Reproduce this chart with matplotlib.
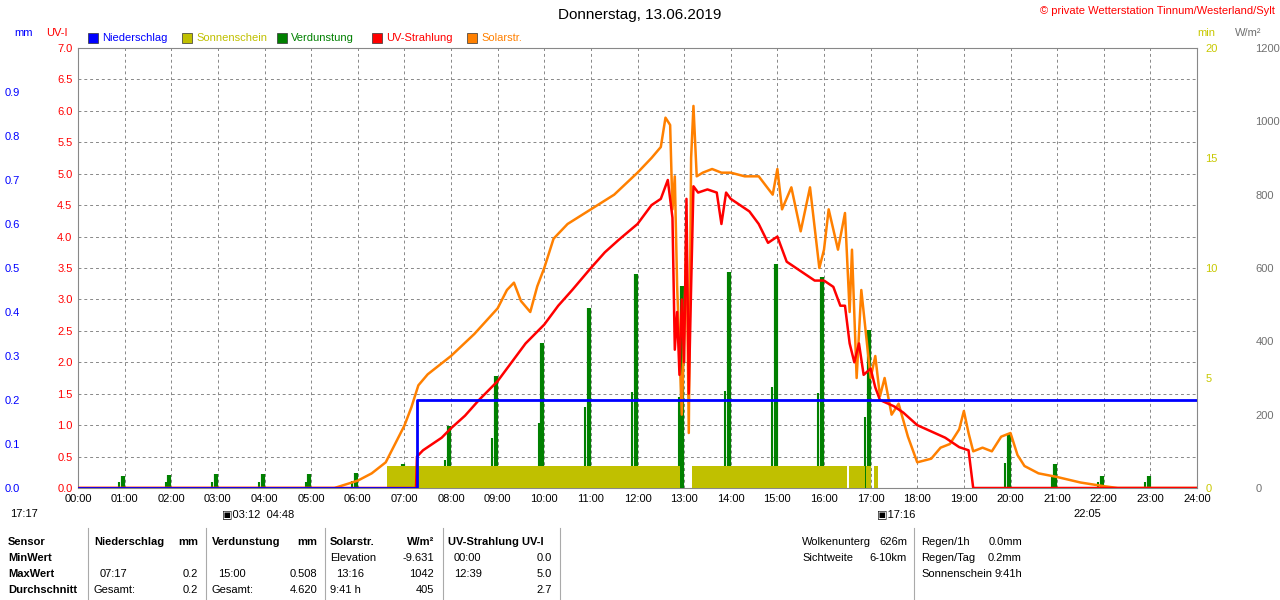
import matplotlib
matplotlib.use("Agg")
import matplotlib.pyplot as plt
import numpy as np

# ---------------- data ----------------
hours_labels = ["%02d:00" % h for h in range(25)]
rain_t = [0, 7.28, 7.28, 24]
rain_mm = [0, 0, 0.2, 0.2]

sun_blocks = [(6.62, 12.92), (13.17, 16.5), (16.53, 16.87), (16.9, 17.0), (17.08, 17.15)]
sun_min = 1.0

evap_t = [1, 2, 3, 4, 5, 6, 7, 8, 9, 10, 11, 12, 13, 14, 15, 16, 17, 18, 19, 20, 21, 22, 23]
evap_mm = [0.028, 0.03, 0.032, 0.032, 0.032, 0.035, 0.055, 0.14, 0.255, 0.33, 0.41, 0.487, 0.46, 0.49, 0.508,
           0.48, 0.36, 0.0, 0.0, 0.125, 0.055, 0.028, 0.028]

uv_t = [0, 7.25, 7.27, 7.4, 7.6, 7.8, 8.0, 8.3, 8.6, 9.0, 9.3, 9.6, 10.0, 10.3, 10.6, 11.0, 11.3, 11.6, 12.0,
        12.3, 12.5, 12.65, 12.75, 12.8, 12.85, 12.9, 12.95, 13.0, 13.05, 13.1, 13.15, 13.2, 13.3, 13.5, 13.7,
        13.8, 13.9, 14.0, 14.2, 14.4, 14.6, 14.8, 15.0, 15.2, 15.4, 15.6, 15.8, 16.0, 16.2, 16.35, 16.45, 16.55,
        16.65, 16.75, 16.85, 17.0, 17.1, 17.2, 17.35, 17.5, 17.7, 18.0, 18.3, 18.6, 18.9, 19.1, 19.15, 19.2, 24]
uv_i = [0, 0, 0.5, 0.6, 0.7, 0.8, 0.95, 1.15, 1.4, 1.7, 2.0, 2.3, 2.6, 2.9, 3.15, 3.5, 3.75, 3.95, 4.2,
        4.5, 4.6, 4.9, 4.3, 2.2, 2.8, 1.8, 3.0, 2.0, 4.6, 1.5, 3.2, 4.8, 4.7, 4.75, 4.7, 4.2, 4.7, 4.6, 4.5,
        4.4, 4.2, 3.9, 4.0, 3.6, 3.5, 3.4, 3.3, 3.3, 3.2, 2.9, 2.9, 2.3, 2.0, 2.3, 1.8, 1.9, 1.6, 1.4, 1.35,
        1.3, 1.2, 1.0, 0.9, 0.8, 0.65, 0.6, 0.3, 0.0, 0.0]

sol_t = [0, 5.5, 6.0, 6.3, 6.6, 6.8, 7.0, 7.15, 7.3, 7.5, 8.0, 8.5, 9.0, 9.2, 9.35, 9.5, 9.7, 9.85, 10.0, 10.2,
         10.5, 11.0, 11.5, 12.0, 12.3, 12.5, 12.6, 12.7, 12.75, 12.8, 12.85, 12.9, 12.95, 13.0, 13.05, 13.1,
         13.15, 13.2, 13.27, 13.4, 13.6, 13.8, 14.0, 14.3, 14.6, 14.9, 15.0, 15.1, 15.3, 15.5, 15.7, 15.9, 16.0,
         16.1, 16.3, 16.45, 16.55, 16.6, 16.7, 16.8, 16.9, 17.0, 17.1, 17.2, 17.3, 17.45, 17.6, 17.8, 18.0,
         18.3, 18.5, 18.7, 18.9, 19.0, 19.1, 19.2, 19.4, 19.6, 19.8, 20.0, 20.15, 20.3, 20.6, 21.0, 21.5, 22.0,
         22.3, 24]
sol_w = [0, 0, 20, 40, 70, 120, 170, 220, 280, 310, 360, 420, 490, 540, 560, 510, 480, 550, 600, 680,
         720, 760, 800, 860, 900, 930, 1010, 990, 760, 850, 550, 380, 200, 420, 700, 150, 900, 1042, 850,
         860, 870, 860, 860, 850, 850, 800, 870, 760, 820, 700, 820, 600, 650, 760, 650, 750, 480, 650, 300,
         540, 420, 300, 360, 250, 300, 200, 230, 140, 70, 80, 110, 120, 160, 210, 150, 100, 110, 100, 140,
         150, 90, 60, 40, 30, 15, 5, 0, 0]

# ---------------- figure ----------------
plt.rcParams['font.family'] = ['Liberation Sans', 'DejaVu Sans']
W, H = 1280, 600
fig = plt.figure(figsize=(12.8, 6.0), dpi=100)
fig.patch.set_facecolor("white")
x0, x1, ytop, ybot = 78, 1197, 48, 488
ax = fig.add_axes([x0 / W, 1 - ybot / H, (x1 - x0) / W, (ybot - ytop) / H])
ax.set_xlim(0, 24)
ax.set_ylim(0, 7)
FS = 8

def clean(a):
    for s in a.spines.values():
        s.set_visible(False)

ax_mm = ax.twinx()
ax_min = ax.twinx()
ax_sol = ax.twinx()
ax_uv = ax.twinx()
ax_r = ax.twinx()

ax.set_xticks(range(25))
ax.set_xticklabels(hours_labels, fontsize=FS)
ax.yaxis.tick_left()
ax.set_yticks(np.arange(0, 7.01, 0.5))
ax.set_yticklabels(["%.1f" % v for v in np.arange(0, 7.01, 0.5)], fontsize=FS, color="red")
ax.tick_params(length=0, pad=4)
ax.grid(True, color="#888888", linestyle=(0, (3, 3)), linewidth=0.7)
for s in ax.spines.values():
    s.set_color("#888888")

ax_mm.set_ylim(0, 1.0)
ax_mm.yaxis.tick_left()
ax_mm.set_yticks(np.arange(0, 0.91, 0.1))
ax_mm.set_yticklabels(["%.1f" % v for v in np.arange(0, 0.91, 0.1)], fontsize=FS, color="blue")
ax_mm.tick_params(length=0, pad=42)

ax_min.set_ylim(0, 20)
ax_min.yaxis.tick_right()
ax_min.set_yticks([0, 5, 10, 15, 20])
ax_min.set_yticklabels(["0", "5", "10", "15", "20"], fontsize=FS, color="#c8c800")
ax_min.tick_params(length=0, pad=6)

ax_sol.set_ylim(0, 1200)
ax_sol.yaxis.tick_right()
ax_sol.set_yticks(range(0, 1201, 200))
ax_sol.set_yticklabels([str(v) for v in range(0, 1201, 200)], fontsize=FS, color="#707070")
ax_sol.tick_params(length=0, pad=42)

ax_uv.set_ylim(0, 7); ax_uv.set_yticks([])
ax_r.set_ylim(0, 1.0); ax_r.set_yticks([])
for a in (ax_mm, ax_min, ax_sol, ax_uv, ax_r):
    clean(a)

for a0, a1 in sun_blocks:
    ax_min.fill_between([a0, a1], [0, 0], [sun_min, sun_min], color="#c0c000", lw=0, zorder=1)
for t, v in zip(evap_t, evap_mm):
    if v > 0:
        ax_mm.vlines(t - 0.04, 0, v, color="#008000", lw=3)
        ax_mm.vlines(t - 0.12, 0, v * 0.45, color="#008000", lw=1.5)
ax_sol.plot(sol_t, sol_w, color="#ff8000", lw=1.8)
ax_uv.plot(uv_t, uv_i, color="red", lw=1.8)
ax_r.plot(rain_t, rain_mm, color="blue", lw=2)

def T(x, y, s, **kw):
    kw.setdefault("fontsize", FS)
    fig.text(x / W, 1 - y / H, s, va="center", **kw)

T(640, 15, "Donnerstag, 13.06.2019", ha="center", fontsize=11)
T(1275, 11, "© private Wetterstation Tinnum/Westerland/Sylt", ha="right", color="red", fontsize=8)
T(14, 33, "mm", color="blue")
T(46, 33, "UV-I", color="red")
T(1197, 33, "min", color="#c8c800")
T(1235, 33, "W/m²", color="#707070")
legend = [(88, "blue", "Niederschlag"), (182, "#c0c000", "Sonnenschein"), (277, "#008000", "Verdunstung"),
          (372, "red", "UV-Strahlung"), (467, "#ff8000", "Solarstr.")]
for x, c, lab in legend:
    fig.patches.append(plt.Rectangle((x / W, 1 - 43 / H), 10 / W, 10 / H, transform=fig.transFigure,
                                     facecolor=c, edgecolor="#333333", lw=0.5))
    T(x + 14, 38, lab, color=c)

T(10, 514, "17:17")
T(222, 514, "▣03:12  04:48")
T(877, 514, "▣17:16")
T(1073, 514, "22:05")

rows = [542, 558, 574, 590]
T(8, rows[0], "Sensor", fontweight="bold")
T(8, rows[1], "MinWert", fontweight="bold")
T(8, rows[2], "MaxWert", fontweight="bold")
T(8, rows[3], "Durchschnitt", fontweight="bold")
T(94, rows[0], "Niederschlag", fontweight="bold"); T(198, rows[0], "mm", fontweight="bold", ha="right")
T(100, rows[2], "07:17"); T(198, rows[2], "0.2", ha="right")
T(94, rows[3], "Gesamt:"); T(198, rows[3], "0.2", ha="right")
T(212, rows[0], "Verdunstung", fontweight="bold"); T(317, rows[0], "mm", fontweight="bold", ha="right")
T(218, rows[2], "15:00"); T(317, rows[2], "0.508", ha="right")
T(212, rows[3], "Gesamt:"); T(317, rows[3], "4.620", ha="right")
T(330, rows[0], "Solarstr.", fontweight="bold"); T(434, rows[0], "W/m²", fontweight="bold", ha="right")
T(330, rows[1], "Elevation"); T(434, rows[1], "-9.631", ha="right")
T(336, rows[2], "13:16"); T(434, rows[2], "1042", ha="right")
T(330, rows[3], "9:41 h"); T(434, rows[3], "405", ha="right")
T(448, rows[0], "UV-Strahlung UV-I", fontweight="bold")
T(454, rows[1], "00:00"); T(552, rows[1], "0.0", ha="right")
T(454, rows[2], "12:39"); T(552, rows[2], "5.0", ha="right")
T(552, rows[3], "2.7", ha="right")
T(802, rows[0], "Wolkenunterg"); T(907, rows[0], "626m", ha="right")
T(802, rows[1], "Sichtweite"); T(907, rows[1], "6-10km", ha="right")
T(921, rows[0], "Regen/1h"); T(1022, rows[0], "0.0mm", ha="right")
T(921, rows[1], "Regen/Tag"); T(1022, rows[1], "0.2mm", ha="right")
T(921, rows[2], "Sonnenschein"); T(1022, rows[2], "9:41h", ha="right")
for x in (88, 206, 325, 443, 560, 914):
    fig.add_artist(plt.Line2D([x / W, x / W], [0, 1 - 528 / H], transform=fig.transFigure,
                              color="#aaaaaa", lw=0.8))

fig.savefig("out.png", dpi=100)
